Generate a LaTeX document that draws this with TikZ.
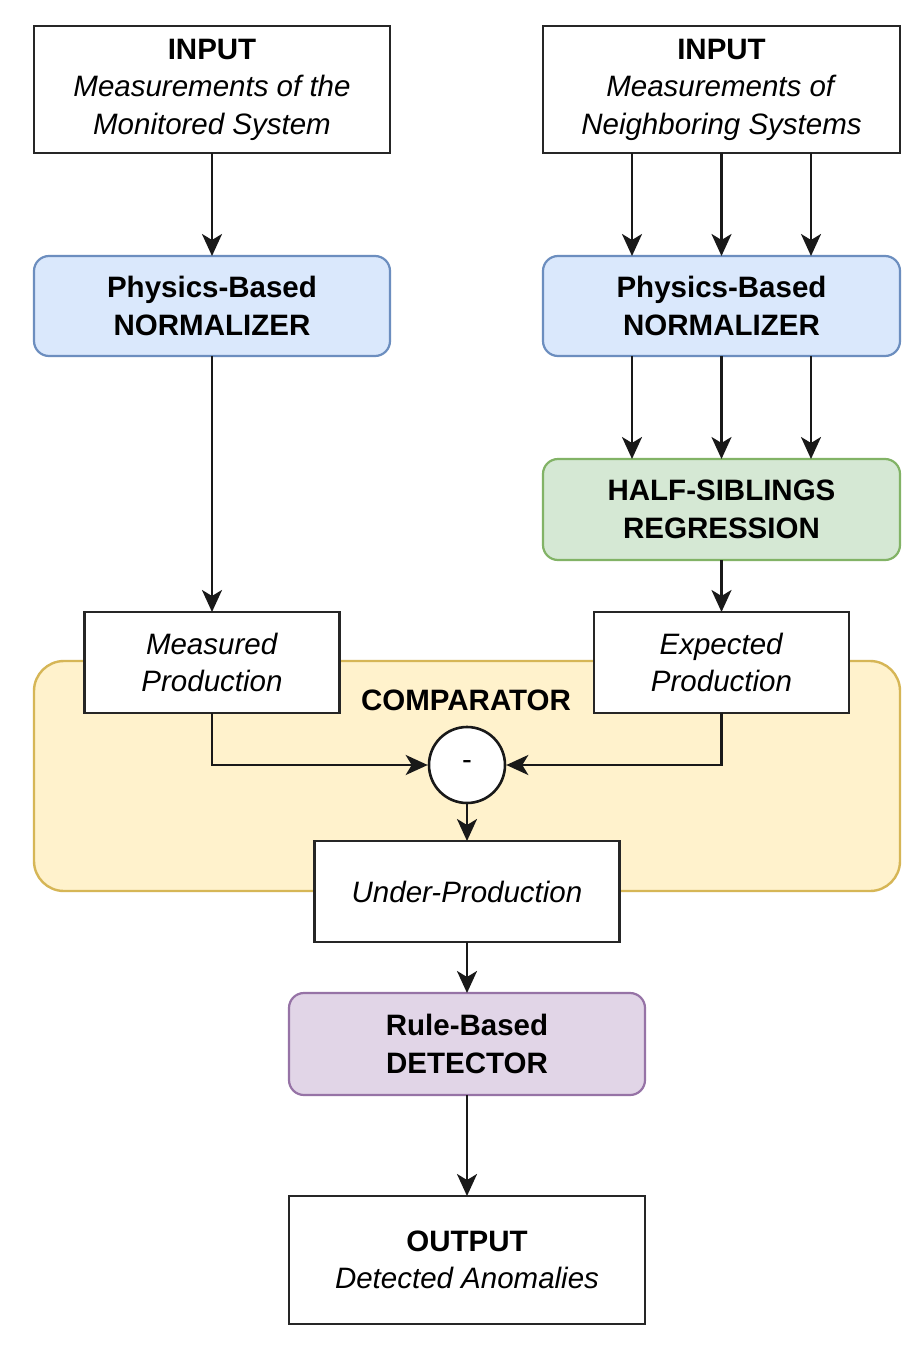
\documentclass[tikz,border=0pt]{standalone}
\usepackage{fontspec}
\setmainfont{Liberation Sans}
\usetikzlibrary{arrows.meta}
\definecolor{blueF}{HTML}{DAE8FC}\definecolor{blueS}{HTML}{6C8EBF}
\definecolor{greenF}{HTML}{D5E8D4}\definecolor{greenS}{HTML}{82B366}
\definecolor{yelF}{HTML}{FFF2CC}\definecolor{yelS}{HTML}{D6B656}
\definecolor{purF}{HTML}{E1D5E7}\definecolor{purS}{HTML}{9673A6}
\tikzset{
  txt/.style={align=center,font=\fontsize{29.5}{37.5}\selectfont,inner sep=0pt,outer sep=0pt},
  plain/.style={txt,draw=black!85,line width=2.8pt,fill=white,rectangle},
  rbox/.style={txt,rectangle,rounded corners=15pt,line width=2.2pt},
  bluebox/.style={rbox,draw=blueS,fill=blueF},
  greenbox/.style={rbox,draw=greenS,fill=greenF},
  purbox/.style={rbox,draw=purS,fill=purF},
  arr/.style={line width=2.7pt,draw=black!90,-{Stealth[length=22pt,width=20pt,inset=6pt]}},
}
\begin{document}
\begin{tikzpicture}[x=1pt,y=-1pt]
\useasboundingbox[fill=white] (0,0) rectangle (905,1346);
% comparator container
\node[rectangle,rounded corners=30pt,draw=yelS,fill=yelF,line width=2.4pt,minimum width=866pt,minimum height=230pt,inner sep=0pt] (comp) at (467,776) {};
\node[txt,font=\fontsize{29.5}{37.5}\selectfont\bfseries] (complab) at (466,700) {COMPARATOR};
% inputs
\node[plain,minimum width=356pt,minimum height=127pt] (in1) at (212,89.5) {\textbf{INPUT}\\\textit{Measurements of the}\\\textit{Monitored System}};
\node[plain,minimum width=357pt,minimum height=127pt] (in2) at (721.5,89.5) {\textbf{INPUT}\\\textit{Measurements of}\\\textit{Neighboring Systems}};
% normalizers
\node[bluebox,minimum width=356pt,minimum height=100pt] (norm1) at (212,306) {\textbf{Physics-Based}\\\textbf{NORMALIZER}};
\node[bluebox,minimum width=357pt,minimum height=100pt] (norm2) at (721.5,306) {\textbf{Physics-Based}\\\textbf{NORMALIZER}};
% HSR
\node[greenbox,minimum width=357pt,minimum height=101pt] (hsr) at (721.5,509.5) {\textbf{HALF-SIBLINGS}\\\textbf{REGRESSION}};
% measured / expected
\node[plain,minimum width=255pt,minimum height=101pt] (meas) at (212,662.5) {\textit{Measured}\\\textit{Production}};
\node[plain,minimum width=255pt,minimum height=101pt] (exp) at (721.5,662.5) {\textit{Expected}\\\textit{Production}};
% circle
\node[circle,draw=black!90,fill=white,line width=2.6pt,minimum size=76pt,inner sep=0pt,font=\fontsize{29.5}{37.5}\selectfont] (circ) at (467,765) {-};
% under-production
\node[plain,minimum width=305pt,minimum height=101pt] (under) at (467,891.5) {\textit{Under-Production}};
% detector
\node[purbox,minimum width=356pt,minimum height=102pt] (det) at (467,1044) {\textbf{Rule-Based}\\\textbf{DETECTOR}};
% output
\node[plain,minimum width=356pt,minimum height=128pt] (out) at (467,1260) {\textbf{OUTPUT}\\\textit{Detected Anomalies}};
% connectors
\draw[arr] (in1.south) -- (norm1.north);
\draw[arr] ([xshift=-89.5pt]in2.south) -- ([xshift=-89.5pt]norm2.north);
\draw[arr] (in2.south) -- (norm2.north);
\draw[arr] ([xshift=89.5pt]in2.south) -- ([xshift=89.5pt]norm2.north);
\draw[arr] ([xshift=-89.5pt]norm2.south) -- ([xshift=-89.5pt]hsr.north);
\draw[arr] (norm2.south) -- (hsr.north);
\draw[arr] ([xshift=89.5pt]norm2.south) -- ([xshift=89.5pt]hsr.north);
\draw[arr] (hsr.south) -- (exp.north);
\draw[arr] (norm1.south) -- (meas.north);
\draw[arr] (meas.south) |- (circ.west);
\draw[arr] (exp.south) |- (circ.east);
\draw[arr] (circ.south) -- (under.north);
\draw[arr] (under.south) -- (det.north);
\draw[arr] (det.south) -- (out.north);
\end{tikzpicture}
\end{document}
